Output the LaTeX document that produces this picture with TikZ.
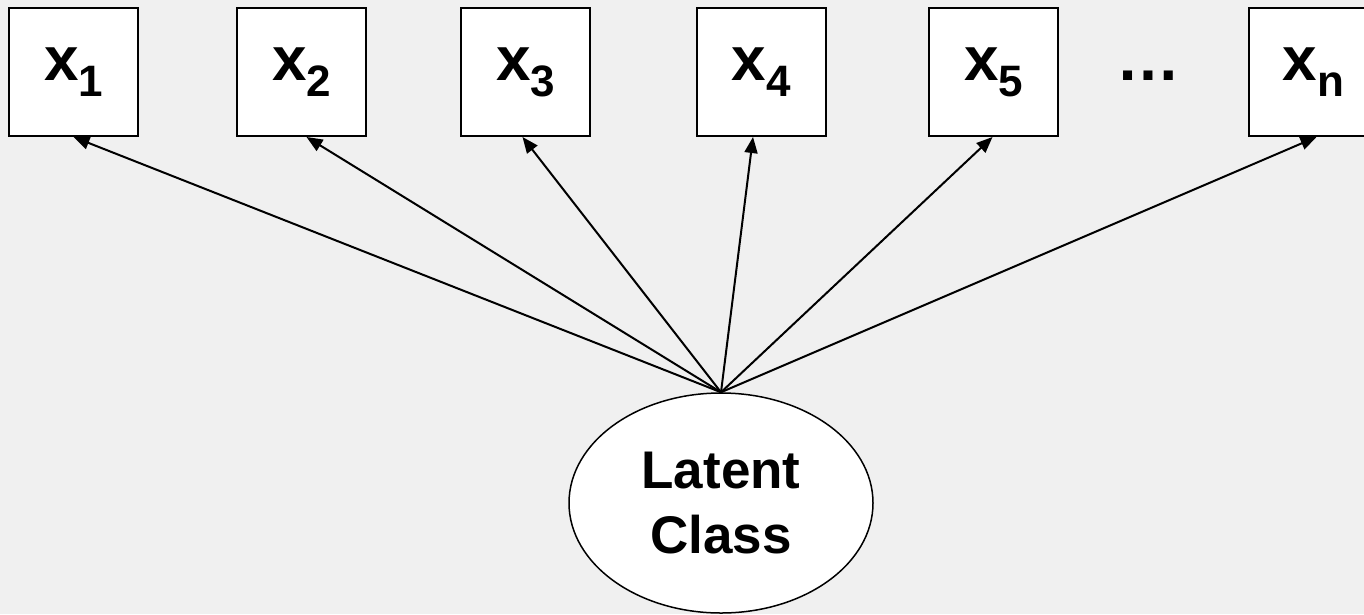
\documentclass[tikz,border=0pt]{standalone}
\usepackage{fontspec}
\setmainfont{Liberation Sans}
\usetikzlibrary{arrows.meta,shapes.geometric}
\definecolor{canvas}{RGB}{240,240,240}
% manifest variable label: bold x with a lowered index
\newcommand\mvlabel[1]{\fontsize{62}{62}\selectfont\bfseries x\raisebox{-16pt}{\fontsize{44}{44}\selectfont\bfseries #1}}
\begin{document}
\begin{tikzpicture}[x=1pt,y=-1pt,
  var/.style={draw=black,fill=white,line width=2pt,minimum width=129pt,
    minimum height=128pt,inner sep=0pt},
  lat/.style={ellipse,draw=black,fill=white,line width=1.5pt,
    minimum width=304pt,minimum height=220pt,inner sep=0pt,align=center,
    font=\fontsize{53}{65}\selectfont\bfseries},
  load/.style={-{Triangle[length=16pt,width=13pt]},line width=2pt}]
\useasboundingbox (0,0) rectangle (1364,614);
\fill[canvas] (0,0) rectangle (1364,614);
\clip (0,0) rectangle (1364,614);

% indicators
\node[var] (x1) at (73.5,72)  {\mvlabel{1}};
\node[var] (x2) at (301.5,72) {\mvlabel{2}};
\node[var] (x3) at (525.5,72) {\mvlabel{3}};
\node[var] (x4) at (761,72)   {\mvlabel{4}};
\node[var] (x5) at (993.5,72) {\mvlabel{5}};
\node[inner sep=0pt,anchor=base] (dots) at (1148,80)
  {\fontsize{64}{64}\selectfont\bfseries\char"2026};
\node[var] (xn) at (1313.5,72) {\mvlabel{n}};

% latent variable
\node[lat] (lc) at (721,503) {Latent\\Class};

% loadings
\foreach \v/\dx in {x1/0,x2/5,x3/-3,x4/-8,x5/-1,xn/3}
  \draw[load] (lc.north) -- ([xshift=\dx pt]\v.south);
\end{tikzpicture}
\end{document}
